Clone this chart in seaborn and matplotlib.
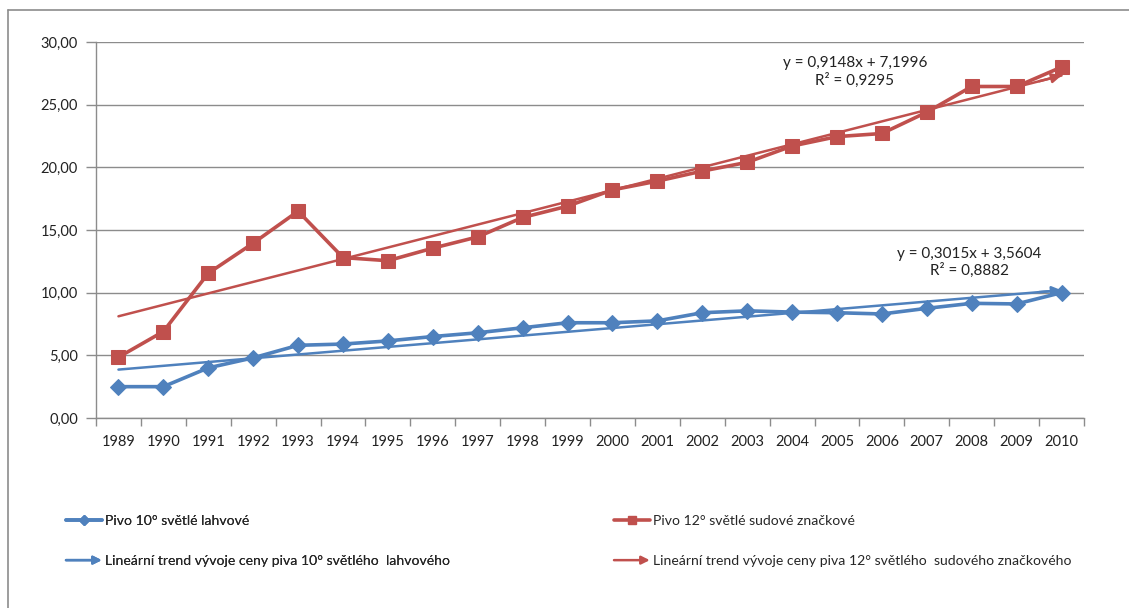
import numpy as np
import pandas as pd
import matplotlib
matplotlib.use("Agg")
import matplotlib.pyplot as plt
import seaborn as sns
from matplotlib.lines import Line2D
from matplotlib.patches import FancyArrowPatch
from matplotlib.legend_handler import HandlerBase

# --- data ---------------------------------------------------------------
years = [1989, 1990, 1991, 1992, 1993, 1994, 1995, 1996, 1997, 1998, 1999,
         2000, 2001, 2002, 2003, 2004, 2005, 2006, 2007, 2008, 2009, 2010]
pivo10 = [2.5, 2.5, 4.0, 4.8, 5.8, 5.9, 6.15, 6.5, 6.8, 7.2, 7.6,
          7.6, 7.75, 8.4, 8.55, 8.45, 8.4, 8.3, 8.75, 9.15, 9.1, 10.0]
pivo12 = [4.85, 6.9, 11.55, 13.95, 16.5, 12.8, 12.55, 13.55, 14.45, 16.0, 16.9,
          18.2, 18.9, 19.7, 20.4, 21.7, 22.45, 22.7, 24.4, 26.45, 26.45, 28.0]

# linear trend coefficients (slope, intercept, R^2)
trend10 = [0.3015, 3.5604, 0.8882]
trend12 = [0.9148, 7.1996, 0.9295]

labels = ["Pivo 10° světlé lahvové",
          "Pivo 12° světlé sudové značkové",
          "Lineární trend vývoje ceny piva 10° světlého  lahvového",
          "Lineární trend vývoje ceny piva 12° světlého  sudového značkového"]

BLUE = "#4F81BD"
RED = "#C0504D"
GRID = "#8C8C8C"

sns.set_theme(style="white")
plt.rcParams["font.family"] = ["Lato", "DejaVu Sans"]

fig = plt.figure(figsize=(11.29, 6.08), dpi=100)
ax = fig.add_axes([96 / 1129, 1 - 418 / 608, (1084 - 96) / 1129, (418 - 42) / 608])

idx = np.arange(1, len(years) + 1)
df = pd.DataFrame({"x": idx, "p10": pivo10, "p12": pivo12})

# trend lines from the fitted coefficients
def trend_values(coef):
    return coef[0] * idx + coef[1]

df["t10"] = trend_values(trend10)
df["t12"] = trend_values(trend12)

sns.lineplot(data=df, x="x", y="t10", ax=ax, color=BLUE, lw=1.8, zorder=3)
sns.lineplot(data=df, x="x", y="t12", ax=ax, color=RED, lw=1.8, zorder=3)
for col, color in (("t10", BLUE), ("t12", RED)):
    ax.annotate("", xy=(idx[-1], df[col].iloc[-1]),
                xytext=(idx[-1] - 0.5, df[col].iloc[-1] - 0.5 * (df[col].iloc[-1] - df[col].iloc[-2])),
                arrowprops=dict(arrowstyle="-|>", color=color, lw=1.8,
                                mutation_scale=14, shrinkA=0, shrinkB=0),
                zorder=3)

# price series
sns.lineplot(data=df, x="x", y="p10", ax=ax, color=BLUE, lw=2.6, marker="D",
             markersize=8, markeredgecolor=BLUE, zorder=4)
sns.lineplot(data=df, x="x", y="p12", ax=ax, color=RED, lw=2.6, marker="s",
             markersize=10, markeredgecolor=RED, zorder=4)

# axes
ax.set_xlim(0.5, len(years) + 0.5)
ax.set_ylim(0, 30)
ax.set_yticks(np.arange(0, 30.1, 5))
ax.set_yticklabels([f"{v:.2f}".replace(".", ",") for v in np.arange(0, 30.1, 5)])
ax.set_xticks(idx)
ax.set_xticklabels([str(y) for y in years])
ax.set_xticks(np.arange(0.5, len(years) + 1, 1), minor=True)
ax.tick_params(axis="x", which="major", length=0, pad=12, labelsize=10.5, colors="#222222")
ax.tick_params(axis="x", which="minor", length=6, width=1, color=GRID, bottom=True)
ax.tick_params(axis="y", length=7, width=1, color=GRID, left=True, pad=6,
               labelsize=10.5, colors="#222222")
ax.grid(axis="y", color=GRID, lw=1)
ax.set_axisbelow(True)
ax.set_xlabel("")
ax.set_ylabel("")
for side in ("top", "right"):
    ax.spines[side].set_visible(False)
for side in ("left", "bottom"):
    ax.spines[side].set_color(GRID)
    ax.spines[side].set_linewidth(1)

def fmt(v, n=4):
    return f"{v:.{n}f}".replace(".", ",")

ax.text(17.4, 27.6, f"y = {fmt(trend12[0])}x + {fmt(trend12[1])}\nR² = {fmt(trend12[2])}",
        ha="center", va="center", fontsize=11, color="#222222", linespacing=1.2)
ax.text(19.95, 12.4, f"y = {fmt(trend10[0])}x + {fmt(trend10[1])}\nR² = {fmt(trend10[2])}",
        ha="center", va="center", fontsize=11, color="#222222", linespacing=1.2)

# outer chart frame
fig.add_artist(Line2D([8 / 1129, 8 / 1129], [0, 1 - 10 / 608], transform=fig.transFigure,
                      color="#8C8C8C", lw=1.2))
fig.add_artist(Line2D([8 / 1129, 1], [1 - 10 / 608, 1 - 10 / 608], transform=fig.transFigure,
                      color="#8C8C8C", lw=1.2))


class ArrowHandler(HandlerBase):
    def __init__(self, color):
        super().__init__()
        self.color = color

    def create_artists(self, legend, orig_handle, xdescent, ydescent, width, height,
                       fontsize, trans):
        y = height / 2 - ydescent
        arr = FancyArrowPatch((-xdescent, y), (width - xdescent, y),
                              arrowstyle="-|>", mutation_scale=12, color=self.color,
                              lw=1.8, shrinkA=0, shrinkB=0, transform=trans)
        return [arr]


h10 = Line2D([], [], color=BLUE, lw=2.6, marker="D", markersize=5)
h12 = Line2D([], [], color=RED, lw=2.6, marker="s", markersize=6)
ht10 = Line2D([], [], color=BLUE)
ht12 = Line2D([], [], color=RED)

legend_font = {"family": ["Lato", "DejaVu Sans"], "size": 10.1}

common = dict(loc="upper left", frameon=False, prop=legend_font, handlelength=2.55,
              handletextpad=0.25, labelspacing=2.0, borderaxespad=0, borderpad=0)
leg1 = fig.legend([h10, ht10], [labels[0], labels[2]],
                  bbox_to_anchor=(66 / 1129, 1 - 515 / 608),
                  handler_map={ht10: ArrowHandler(BLUE)}, **common)
leg2 = fig.legend([h12, ht12], [labels[1], labels[3]],
                  bbox_to_anchor=(614 / 1129, 1 - 515 / 608),
                  handler_map={ht12: ArrowHandler(RED)}, **common)
fig.add_artist(leg1)

fig.savefig("out.png", dpi=100)
